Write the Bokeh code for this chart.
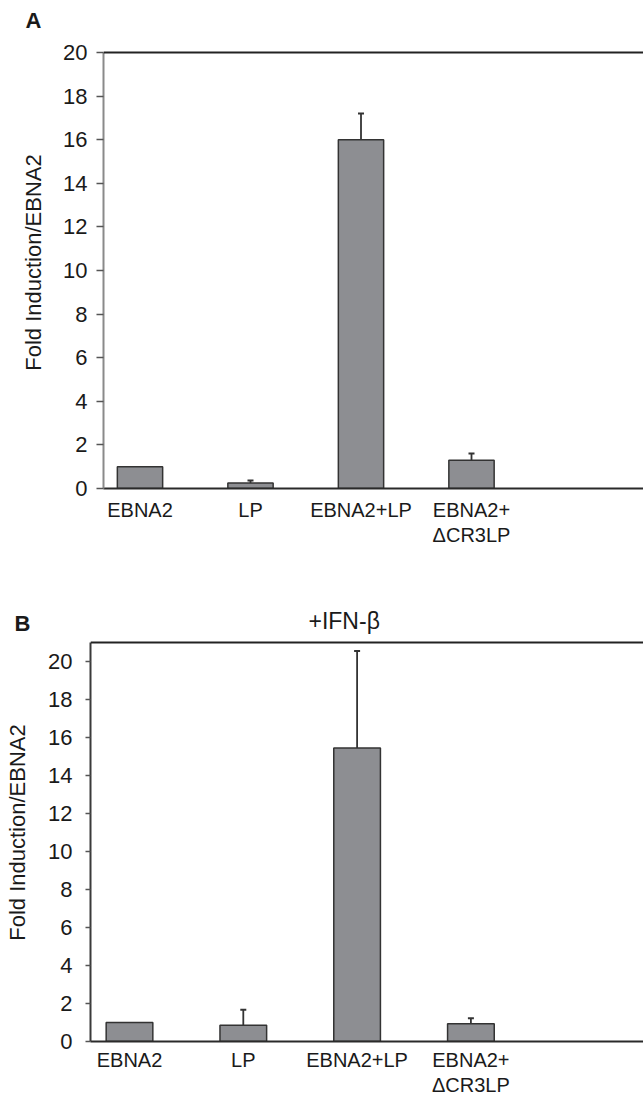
from bokeh.plotting import figure
from bokeh.models import Range1d, FixedTicker, Span, Whisker, TeeHead, ColumnDataSource, Title
from bokeh.embed import file_html
from bokeh.resources import INLINE

# ---- data ----
categories = ["EBNA2", "LP", "EBNA2+LP", "EBNA2+\nΔCR3LP"]
positions = [1, 2, 3, 4]
values_a = [1.0, 0.25, 16.0, 1.3]
errors_a = [0.0, 0.12, 1.2, 0.3]
values_b = [1.0, 0.85, 15.45, 0.93]
errors_b = [0.0, 0.82, 5.1, 0.3]
y_ticks = [0, 2, 4, 6, 8, 10, 12, 14, 16, 18, 20]
y_top_a = 20
y_top_b = 21
y_label = "Fold Induction/EBNA2"
panel_a = "A"
panel_b = "B"
title_b = "+IFN-β"

FONT = "Liberation Sans"
BAR_FILL = "#8d8e92"
BAR_LINE = "#333333"
TEXT = "#1a1a1a"


def make_panel(vals, errs, y_top, px_per_unit, extra_top_px, height, width,
               border_left, border_top, border_bottom, px_per_cat, first_offset,
               yaxis_color, tick_out, label_standoff, axis_label_standoff,
               xlabel_standoff):
    frame_w = width - border_left
    x_start = positions[0] - first_offset / px_per_cat
    x_end = x_start + frame_w / px_per_cat
    y_end = y_top + extra_top_px / px_per_unit
    p = figure(width=width, height=height, output_backend="svg", toolbar_location=None,
               x_range=Range1d(x_start, x_end), y_range=Range1d(0, y_end),
               min_border_left=border_left, min_border_right=0,
               min_border_top=border_top, min_border_bottom=border_bottom,
               outline_line_color=None, background_fill_color="white",
               border_fill_color="white")
    p.grid.visible = False

    src = ColumnDataSource(dict(x=positions, top=vals))
    p.vbar(x="x", top="top", width=0.41, bottom=0, source=src,
           fill_color=BAR_FILL, line_color=BAR_LINE, line_width=1.5)

    ex = [x for x, e in zip(positions, errs) if e > 0]
    elo = [v for v, e in zip(vals, errs) if e > 0]
    ehi = [v + e for v, e in zip(vals, errs) if e > 0]
    esrc = ColumnDataSource(dict(base=ex, lower=elo, upper=ehi))
    w = Whisker(base="base", lower="lower", upper="upper", source=esrc,
                line_color="#333333", line_width=1.8, lower_head=None,
                upper_head=TeeHead(size=6, line_color="#333333", line_width=2))
    p.add_layout(w)

    # top border of the plot box
    p.add_layout(Span(location=y_top, dimension="width", line_color="#222222", line_width=2))

    # x axis
    xa = p.xaxis[0]
    xa.ticker = FixedTicker(ticks=positions)
    xa.major_label_overrides = {pos: lab for pos, lab in zip(positions, categories)}
    xa.major_tick_line_color = None
    xa.minor_tick_line_color = None
    xa.axis_line_color = "#2a2a2a"
    xa.axis_line_width = 2
    xa.major_label_text_font = FONT
    xa.major_label_text_font_size = "20px"
    xa.major_label_text_color = TEXT
    xa.major_label_standoff = xlabel_standoff
    xa.major_label_text_line_height = 1.15

    # y axis
    ya = p.yaxis[0]
    ya.ticker = FixedTicker(ticks=y_ticks)
    ya.bounds = (0, y_top)
    ya.minor_tick_line_color = None
    ya.major_tick_out = tick_out
    ya.major_tick_in = 0
    ya.major_tick_line_color = "#555555"
    ya.major_tick_line_width = 1.5
    ya.axis_line_color = yaxis_color
    ya.axis_line_width = 2
    ya.major_label_text_font = FONT
    ya.major_label_text_font_size = "22px"
    ya.major_label_text_color = TEXT
    ya.major_label_standoff = label_standoff
    ya.axis_label = y_label
    ya.axis_label_text_font = FONT
    ya.axis_label_text_font_size = "22px"
    ya.axis_label_text_font_style = "normal"
    ya.axis_label_text_color = TEXT
    ya.axis_label_standoff = axis_label_standoff
    return p


# Panel A
pa = make_panel(values_a, errors_a, y_top_a, 21.8, 16, height=575, width=643,
                border_left=103, border_top=36, border_bottom=87, px_per_cat=110.5,
                first_offset=36.5, yaxis_color="#8a8a8a", tick_out=7,
                label_standoff=9, axis_label_standoff=14, xlabel_standoff=4)
pa.title.text = panel_a
pa.title.align = "left"
pa.title.offset = -78
pa.title.standoff = 8
pa.title.text_font = FONT
pa.title.text_font_size = "22px"
pa.title.text_font_style = "bold"
pa.title.text_color = TEXT

# Panel B
pb = make_panel(values_b, errors_b, y_top_b, 19.0, 19, height=527, width=643,
                border_left=90, border_top=48, border_bottom=61, px_per_cat=113.8,
                first_offset=39, yaxis_color="#3a3a3a", tick_out=5,
                label_standoff=13, axis_label_standoff=15, xlabel_standoff=1)
pb.title.text = title_b
pb.title.align = "left"
pb.title.offset = 218
pb.title.standoff = -26
pb.title.text_font = FONT
pb.title.text_font_size = "23px"
pb.title.text_font_style = "normal"
pb.title.text_color = TEXT
pb.add_layout(Title(text=panel_b, align="left", offset=-76, standoff=-24,
                    text_font=FONT, text_font_size="22px", text_font_style="bold",
                    text_color=TEXT), "above")

open("out.html", "w").write(file_html([pa, pb], INLINE))
